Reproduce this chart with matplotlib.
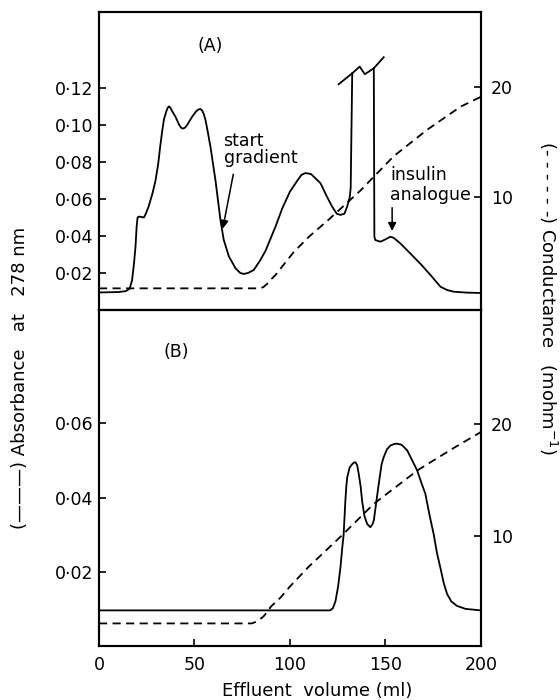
import matplotlib
matplotlib.use('Agg')
import matplotlib.pyplot as plt
import numpy as np

plt.rcParams['font.family'] = ['DejaVu Sans']
plt.rcParams['font.size'] = 12.5

# Panel A - absorbance at 278 nm (solid)
a_ml = [0, 10, 14, 16, 17.3, 18.3, 19.1, 19.7, 20.2, 21, 23.5, 24.5, 26, 28, 29.6,
        31, 32, 33, 34, 35.3, 36, 36.6, 37.3, 38, 40, 42, 43, 43.9, 45, 46, 48.8,
        51, 52.2, 53.1, 54, 54.8, 55.8, 57, 58.4, 61, 63.6, 65.3, 68, 71.5, 74,
        75.8, 78, 81, 84.5, 87.2, 92.4, 96, 100, 103.9, 106, 108, 111, 116, 119,
        122, 124.5, 126.4, 128.5, 130, 131.3, 131.8, 132.6, np.nan, 143.9, 144.2,
        144.7, 147.4, 150, 152.6, 154.3, 157.8, 163, 168.3, 173.6, 178.8, 182.3,
        185.8, 192.8, 200]
a_abs = [0.0095, 0.0097, 0.0102, 0.0115, 0.016, 0.025, 0.034, 0.045, 0.050, 0.0505,
         0.050, 0.052, 0.056, 0.063, 0.070, 0.079, 0.088, 0.096, 0.103, 0.1075,
         0.1093, 0.110, 0.1094, 0.108, 0.1045, 0.100, 0.0985, 0.098, 0.0985, 0.0997,
         0.1045, 0.1075, 0.1084, 0.1086, 0.1078, 0.106, 0.1025, 0.096, 0.088, 0.070,
         0.0486, 0.038, 0.029, 0.0225, 0.020, 0.0195, 0.020, 0.0216, 0.027, 0.032,
         0.045, 0.055, 0.064, 0.070, 0.073, 0.074, 0.0735, 0.0685, 0.062, 0.056,
         0.052, 0.0514, 0.052, 0.056, 0.061, 0.066, 0.1279, np.nan, 0.1306, 0.0396,
         0.0378, 0.0369, 0.0382, 0.0396, 0.039, 0.036, 0.0306, 0.025, 0.0189, 0.0126,
         0.0108, 0.0099, 0.0094, 0.0092]

# off-scale break mark on the big peak
break_ml = [125.5, 132.6, 136.5, 139.2, 143.9, 149.1]
break_abs = [0.1220, 0.1279, 0.1315, 0.1274, 0.1306, 0.1366]

# Panel A - conductance (dashed)
a_cond_ml = [0, 84, 86, 88, 90, 92.4, 96, 102, 110, 120, 137, 154.3, 171.8, 189.3, 200]
a_cond = [1.7, 1.7, 1.8, 2.1, 2.5, 2.9, 3.7, 5.0, 6.4, 7.9, 10.6, 13.7, 16.1, 18.2, 19.1]

# Panel B - absorbance (solid)
b_ml = [0, 121, 122.5, 123.8, 125.2, 126.4, 127.3, 128.1, 128.6, 129, 129.5, 130,
        131.2, 132.6, 133.5, 134.3, 135.2, 136, 137, 137.8, 139, 140.4, 142.1, 143.2,
        143.9, 145, 146.5, 148, 149.1, 150.8, 152.6, 154.5, 156.1, 158.5, 161.4, 164,
        166.6, 169, 170.9, 173, 175.3, 177, 178.8, 180.5, 182.3, 184.5, 187.5,
        192, 200]
b_abs = [0.0096, 0.0096, 0.0102, 0.012, 0.016, 0.021, 0.026, 0.030, 0.035, 0.039,
         0.043, 0.0455, 0.048, 0.049, 0.0494, 0.0495, 0.0487, 0.0464, 0.043, 0.039,
         0.035, 0.0329, 0.032, 0.0328, 0.0338, 0.038, 0.0437, 0.049, 0.0509, 0.053,
         0.054, 0.0544, 0.0545, 0.0542, 0.0527, 0.050, 0.0473, 0.0437, 0.041, 0.0355,
         0.030, 0.025, 0.021, 0.017, 0.014, 0.012, 0.0108, 0.0100, 0.0096]

# Panel B - conductance (dashed)
b_cond_ml = [0, 80, 83, 86, 88, 90, 95, 100, 110, 120, 128, 144, 167, 185, 200]
b_cond = [2.2, 2.2, 2.4, 2.8, 3.2, 3.7, 4.5, 5.5, 7.3, 8.9, 10.2, 12.9, 15.9, 17.8, 19.3]

x_ticks = [0, 50, 100, 150, 200]
a_yticks = [0.02, 0.04, 0.06, 0.08, 0.10, 0.12]
b_yticks = [0.02, 0.04, 0.06]
cond_ticks = [10, 20]


def dot_label(v):
    return ('%.2f' % v).replace('.', '\u00b7')


fig = plt.figure(figsize=(5.6, 7), dpi=100)
axA = fig.add_axes([0.1768, 0.5571, 0.682, 0.4257])
axB = fig.add_axes([0.1768, 0.0771, 0.682, 0.48])
axA2 = axA.twinx()
axB2 = axB.twinx()

lw = 1.3
dash = (0, (4.5, 3))

axA.plot(a_ml, a_abs, color='k', lw=lw)
axA.plot(break_ml, break_abs, color='k', lw=lw)
axA2.plot(a_cond_ml, a_cond, color='k', lw=lw, linestyle=dash)
axB.plot(b_ml, b_abs, color='k', lw=lw)
axB2.plot(b_cond_ml, b_cond, color='k', lw=lw, linestyle=dash)

axA.set_xlim(0, 200)
axB.set_xlim(0, 200)
axA.set_ylim(0, 0.161)
axA2.set_ylim(-0.27, 26.8)
axB.set_ylim(0, 0.0905)
axB2.set_ylim(0.18, 30.2)

for ax in (axA, axA2, axB, axB2):
    for s in ax.spines.values():
        s.set_linewidth(1.5)
    ax.tick_params(direction='in', length=5, width=1.2, labelsize=12.5)

axA.set_xticks([])
axA.set_yticks(a_yticks)
axA.set_yticklabels([dot_label(v) for v in a_yticks])
axA.tick_params(axis='y', pad=4)
axB.set_xticks(x_ticks)
axB.set_xticklabels([str(v) for v in x_ticks])
axB.tick_params(axis='x', pad=7)
axB.set_yticks(b_yticks)
axB.set_yticklabels([dot_label(v) for v in b_yticks])
axB.tick_params(axis='y', pad=4)
for ax in (axA2, axB2):
    ax.set_yticks(cond_ticks)
    ax.set_yticklabels([str(v) for v in cond_ticks])
    ax.tick_params(axis='y', pad=7)

# panel letters and annotations
axA.text(58.4, 0.1427, '(A)', ha='center', va='center')
axB.text(40.6, 0.0792, '(B)', ha='center', va='center')

axA.text(65.2, 0.0914, 'start', ha='left', va='center')
axA.text(65.2, 0.0822, 'gradient', ha='left', va='center')
axA.annotate('', xy=(64.5, 0.0424), xytext=(70.6, 0.0748),
             arrowprops=dict(arrowstyle='-|>', color='k', lw=1.1, mutation_scale=12))

axA.text(152.6, 0.073, 'insulin', ha='left', va='center')
axA.text(152.6, 0.0622, 'analogue', ha='left', va='center')
axA.annotate('', xy=(153.5, 0.0412), xytext=(153.5, 0.0568),
             arrowprops=dict(arrowstyle='-|>', color='k', lw=1.1, mutation_scale=12))

fig.text(20 / 560, 1 - 378 / 700, '(\u2014\u2014\u2014) Absorbance   at   278 nm',
         rotation=90, ha='center', va='center', fontsize=13)
fig.text(548 / 560, 1 - 298 / 700, '(- - - - - -) Conductance   (mohm$^{-1}$)',
         rotation=270, ha='center', va='center', fontsize=13)
fig.text(317 / 560, 1 - 691 / 700, 'Effluent  volume (ml)',
         ha='center', va='center', fontsize=13)

fig.savefig('out.png', dpi=100)
